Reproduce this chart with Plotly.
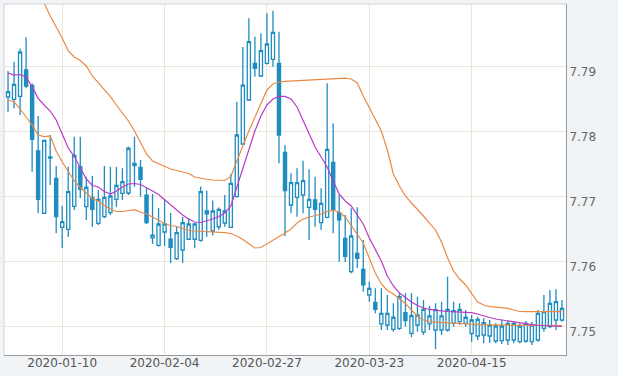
import pandas as pd
import plotly.graph_objects as go

dates = [d.strftime("%Y-%m-%d") for d in pd.bdate_range("2019-12-30", "2020-05-06")]

opens = [7.78534, 7.78498, 7.78542, 7.78949, 7.78714, 7.77703, 7.76745, 7.77595, 7.77283, 7.76529,
         7.76498, 7.76852, 7.77462, 7.76846, 7.76988, 7.76591, 7.76692, 7.76754, 7.76960, 7.77052,
         7.77057, 7.77480, 7.77452, 7.77022, 7.76365, 7.76252, 7.76457, 7.76345, 7.76046, 7.76180,
         7.76345, 7.76345, 7.76329, 7.76780, 7.76472, 7.76538, 7.76595, 7.76529, 7.77000, 7.77811,
         7.78488, 7.79052, 7.78857, 7.79052, 7.79114, 7.79052, 7.77683, 7.76872, 7.76991, 7.77026,
         7.76837, 7.76949, 7.76600, 7.76683, 7.77529, 7.76754, 7.76360, 7.75846, 7.76129, 7.75883,
         7.75488, 7.75375, 7.75042, 7.75026, 7.74960, 7.74975, 7.75215, 7.74898, 7.75026, 7.74918,
         7.75042, 7.74949, 7.74949, 7.74949, 7.75052, 7.75077, 7.75052, 7.74895, 7.74857, 7.74872,
         7.74857, 7.74780, 7.74785, 7.74795, 7.74795, 7.74769, 7.74780, 7.74769, 7.74795, 7.74975,
         7.75000, 7.75103, 7.75103]
highs = [7.78934, 7.79077, 7.79280, 7.79452, 7.78742, 7.78242, 7.77872, 7.77949, 7.77472, 7.76857,
         7.77462, 7.77923, 7.77923, 7.77308, 7.77318, 7.77103, 7.77472, 7.77462, 7.77462, 7.77437,
         7.77769, 7.77923, 7.77565, 7.77134, 7.77042, 7.76826, 7.76965, 7.76749, 7.76538, 7.76688,
         7.76672, 7.76595, 7.77157, 7.77095, 7.76942, 7.76834, 7.77026, 7.77349, 7.78462, 7.79303,
         7.79745, 7.79462, 7.79514, 7.79822, 7.79862, 7.79538, 7.77795, 7.77360, 7.77437, 7.77554,
         7.77422, 7.77308, 7.77129, 7.78745, 7.78129, 7.77026, 7.76718, 7.76822, 7.76837, 7.76334,
         7.75692, 7.75591, 7.75591, 7.75488, 7.75360, 7.75514, 7.75514, 7.75514, 7.75462, 7.75411,
         7.75318, 7.75360, 7.75385, 7.75769, 7.75385, 7.75360, 7.75257, 7.75180, 7.75154, 7.75129,
         7.75103, 7.75052, 7.75103, 7.75092, 7.75077, 7.75052, 7.75088, 7.75077, 7.75257, 7.75488,
         7.75565, 7.75575, 7.75411]
lows = [7.78303, 7.78360, 7.78257, 7.78668, 7.77385, 7.76745, 7.76734, 7.77180, 7.76437, 7.76211,
        7.76380, 7.76795, 7.76980, 7.76642, 7.76538, 7.76565, 7.76668, 7.76718, 7.76846, 7.76949,
        7.77026, 7.77154, 7.77000, 7.76580, 7.76272, 7.76231, 7.76242, 7.75980, 7.76026, 7.75985,
        7.76334, 7.76206, 7.76308, 7.76385, 7.76403, 7.76488, 7.76538, 7.76518, 7.76988, 7.77795,
        7.78472, 7.78846, 7.78842, 7.79034, 7.79000, 7.77514, 7.76395, 7.76745, 7.76692, 7.76745,
        7.76334, 7.76538, 7.76488, 7.76668, 7.76437, 7.76000, 7.75995, 7.75822, 7.75903, 7.75538,
        7.75385, 7.75206, 7.74949, 7.74949, 7.74923, 7.74949, 7.75000, 7.74837, 7.74923, 7.74872,
        7.74949, 7.74652, 7.74872, 7.74923, 7.75000, 7.75026, 7.75000, 7.74769, 7.74795, 7.74745,
        7.74754, 7.74745, 7.74734, 7.74718, 7.74745, 7.74745, 7.74754, 7.74718, 7.74769, 7.74923,
        7.74975, 7.74949, 7.75077]
closes = [7.78618, 7.78729, 7.79226, 7.78703, 7.77883, 7.76960, 7.77865, 7.77611, 7.76692, 7.76618,
          7.77077, 7.77637, 7.77114, 7.77145, 7.76806, 7.76960, 7.76991, 7.77011, 7.77175, 7.77231,
          7.77745, 7.77514, 7.77268, 7.76600, 7.76408, 7.76580, 7.76580, 7.76222, 7.76446, 7.76600,
          7.76580, 7.76580, 7.77077, 7.76738, 7.76780, 7.76806, 7.76780, 7.77206, 7.77949, 7.78718,
          7.79385, 7.78975, 7.79246, 7.79349, 7.79529, 7.77949, 7.77092, 7.77215, 7.77215, 7.77246,
          7.76960, 7.76806, 7.76898, 7.77729, 7.76806, 7.76642, 7.76083, 7.76395, 7.76052, 7.75642,
          7.75591, 7.75268, 7.75206, 7.75206, 7.75145, 7.75462, 7.75092, 7.75172, 7.75180, 7.75268,
          7.75165, 7.75262, 7.75165, 7.75268, 7.75246, 7.75268, 7.75145, 7.75103, 7.75114, 7.75062,
          7.75026, 7.75011, 7.75011, 7.75052, 7.75052, 7.75011, 7.75052, 7.75026, 7.75206, 7.75231,
          7.75360, 7.75385, 7.75283]

avg_line = [7.78903, 7.78872, 7.78880, 7.78842, 7.78692, 7.78514, 7.78411, 7.78318, 7.78180, 7.77965,
            7.77749, 7.77618, 7.77449, 7.77272, 7.77172, 7.77149, 7.77080, 7.77042, 7.77088, 7.77149,
            7.77195, 7.77203, 7.77188, 7.77142, 7.77088, 7.77034, 7.76957, 7.76880, 7.76795, 7.76718,
            7.76657, 7.76611, 7.76603, 7.76626, 7.76657, 7.76695, 7.76749, 7.76857, 7.77149, 7.77442,
            7.77718, 7.78011, 7.78242, 7.78411, 7.78503, 7.78542, 7.78542, 7.78503, 7.78380, 7.78180,
            7.77965, 7.77765, 7.77611, 7.77457, 7.77242, 7.77042, 7.76934, 7.76857, 7.76718, 7.76580,
            7.76365, 7.76180, 7.76011, 7.75780, 7.75626, 7.75518, 7.75442, 7.75380, 7.75326, 7.75288,
            7.75265, 7.75249, 7.75242, 7.75234, 7.75229, 7.75226, 7.75222, 7.75215, 7.75195, 7.75165,
            7.75142, 7.75118, 7.75103, 7.75088, 7.75072, 7.75052, 7.75042, 7.75031, 7.75022, 7.75015,
            7.75011, 7.75006, 7.75003]
upper_band = [7.80888, 7.80795, 7.80672, 7.80534, 7.80365, 7.80180, 7.79980, 7.79780, 7.79611, 7.79442,
              7.79242, 7.79149, 7.79095, 7.79011, 7.78857, 7.78749, 7.78657, 7.78538, 7.78411, 7.78283,
              7.78165, 7.78011, 7.77842, 7.77657, 7.77549, 7.77511, 7.77465, 7.77426, 7.77403, 7.77385,
              7.77357, 7.77303, 7.77280, 7.77268, 7.77257, 7.77257, 7.77249, 7.77311, 7.77534, 7.77780,
              7.78011, 7.78226, 7.78426, 7.78642, 7.78734, 7.78765, 7.78775, 7.78780, 7.78785, 7.78791,
              7.78795, 7.78802, 7.78806, 7.78814, 7.78820, 7.78823, 7.78823, 7.78811, 7.78749, 7.78549,
              7.78365, 7.78180, 7.78011, 7.77718, 7.77349, 7.77165, 7.77011, 7.76903, 7.76811, 7.76703,
              7.76595, 7.76488, 7.76303, 7.76057, 7.75857, 7.75734, 7.75642, 7.75503, 7.75380, 7.75334,
              7.75308, 7.75300, 7.75291, 7.75283, 7.75257, 7.75234, 7.75231, 7.75231, 7.75231, 7.75231,
              7.75231, 7.75231, 7.75231]
lower_band = [7.78488, 7.78462, 7.78349, 7.78226, 7.78103, 7.77949, 7.77923, 7.77934, 7.77703, 7.77534,
              7.77380, 7.77242, 7.77142, 7.77057, 7.76972, 7.76934, 7.76865, 7.76811, 7.76772, 7.76772,
              7.76788, 7.76800, 7.76765, 7.76734, 7.76688, 7.76634, 7.76588, 7.76557, 7.76542, 7.76511,
              7.76480, 7.76472, 7.76468, 7.76465, 7.76457, 7.76449, 7.76446, 7.76434, 7.76395, 7.76342,
              7.76272, 7.76211, 7.76218, 7.76272, 7.76334, 7.76388, 7.76442, 7.76503, 7.76595, 7.76657,
              7.76688, 7.76711, 7.76734, 7.76772, 7.76788, 7.76765, 7.76688, 7.76549, 7.76426, 7.76288,
              7.76057, 7.75826, 7.75657, 7.75557, 7.75503, 7.75426, 7.75357, 7.75257, 7.75165, 7.75103,
              7.75077, 7.75069, 7.75063, 7.75057, 7.75052, 7.75048, 7.75042, 7.75037, 7.75031, 7.75029,
              7.75029, 7.75028, 7.75026, 7.75026, 7.75026, 7.75023, 7.75020, 7.75017, 7.75015, 7.75015,
              7.75015, 7.75015, 7.75015]

x_ticks = ["2020-01-10", "2020-02-04", "2020-02-27", "2020-03-23", "2020-04-15"]
y_ticks = [7.75, 7.76, 7.77, 7.78, 7.79]
y_tick_labels = ["7.75", "7.76", "7.77", "7.78", "7.79"]

CANDLE = "#1f8dc0"
ORANGE = "#e98a45"
MAGENTA = "#b93ac6"
GRID = "#ebe6d8"

fig = go.Figure()
fig.add_trace(go.Scatter(x=dates, y=upper_band, mode="lines",
                         line=dict(color=ORANGE, width=1.2), hoverinfo="skip"))
fig.add_trace(go.Scatter(x=dates, y=lower_band, mode="lines",
                         line=dict(color=ORANGE, width=1.2), hoverinfo="skip"))
fig.add_trace(go.Scatter(x=dates, y=avg_line, mode="lines",
                         line=dict(color=MAGENTA, width=1.2), hoverinfo="skip"))
fig.add_trace(go.Candlestick(
    x=dates, open=opens, high=highs, low=lows, close=closes,
    increasing=dict(line=dict(color=CANDLE, width=1.3), fillcolor="white"),
    decreasing=dict(line=dict(color=CANDLE, width=1.3), fillcolor=CANDLE),
    whiskerwidth=0,
))

fig.update_layout(
    width=618, height=376,
    margin=dict(l=4, r=52, t=4, b=21, pad=0),
    paper_bgcolor="#f0f4f7",
    plot_bgcolor="white",
    showlegend=False,
    boxgap=0.25,
    font=dict(family="DejaVu Sans", size=12, color="#555"),
    xaxis=dict(
        type="category",
        range=[-0.67, 92.67],
        tickmode="array", tickvals=x_ticks, ticktext=x_ticks,
        showgrid=True, gridcolor=GRID, gridwidth=1,
        showline=True, linecolor="#9a9a9a", linewidth=1,
        ticks="", zeroline=False,
        ticklabelstandoff=-3,
        rangeslider=dict(visible=False),
        tickfont=dict(family="DejaVu Sans", size=12, color="#555"),
    ),
    yaxis=dict(
        side="right",
        range=[7.745646, 7.799646],
        tickmode="array", tickvals=y_ticks, ticktext=y_tick_labels,
        showgrid=True, gridcolor=GRID, gridwidth=1,
        showline=True, linecolor="#9a9a9a", linewidth=1,
        ticks="", zeroline=False,
        ticklabelshift=5,
        tickfont=dict(family="DejaVu Sans", size=12, color="#666"),
    ),
    shapes=[
        dict(type="line", xref="paper", yref="paper", x0=0, x1=1, y0=1, y1=1,
             line=dict(color="#d2d2d2", width=1)),
        dict(type="line", xref="paper", yref="paper", x0=0, x1=0, y0=0, y1=1,
             line=dict(color="#d2d2d2", width=1)),
    ],
)

fig.write_html(
    "out.html",
    config=dict(displayModeBar=False),
    post_script="document.body.style.margin='0';document.body.style.background='#f0f4f7';",
)
